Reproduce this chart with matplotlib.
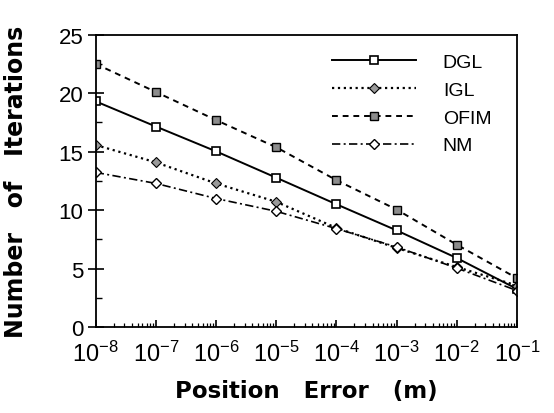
import matplotlib
matplotlib.use('Agg')
import matplotlib.pyplot as plt
from matplotlib.ticker import MultipleLocator, LogLocator, NullFormatter, FixedLocator

plt.rcParams['font.family'] = ['Liberation Sans', 'DejaVu Sans']
plt.rcParams['mathtext.fontset'] = 'custom'
plt.rcParams['mathtext.rm'] = 'Liberation Sans'
plt.rcParams['mathtext.it'] = 'Liberation Sans'

# position error (m)
err = [1e-8, 1e-7, 1e-6, 1e-5, 1e-4, 1e-3, 1e-2, 1e-1]
tick_labels = [r'$10^{-8}$', r'$10^{-7}$', r'$10^{-6}$', r'$10^{-5}$',
               r'$10^{-4}$', r'$10^{-3}$', r'$10^{-2}$', r'$10^{-1}$']

# number of iterations
dgl = [19.3, 17.15, 15.03, 12.78, 10.51, 8.28, 5.92, 3.28]
igl = [15.57, 14.09, 12.29, 10.72, 8.49, 6.78, 5.15, 3.57]
ofim = [22.5, 20.1, 17.7, 15.38, 12.57, 10.06, 7.06, 4.2]
nm = [13.23, 12.29, 11.0, 9.91, 8.43, 6.86, 5.06, 3.14]

fig = plt.figure(figsize=(5.54, 4.14), dpi=100)
ax = fig.add_axes([0.1727, 0.207, 0.7603, 0.707])

ax.plot(err, dgl, '-', color='black', lw=1.4, marker='s', ms=5.5,
        mfc='white', mec='black', mew=1.2, label='DGL')
ax.plot(err, igl, ':', color='black', lw=1.6, marker='D', ms=5,
        mfc='#9a9a9a', mec='black', mew=0.8, label='IGL')
ax.plot(err, ofim, '--', color='black', lw=1.4, dashes=(3, 2.5), marker='s', ms=6,
        mfc='#8c8c8c', mec='black', mew=1.0, label='OFIM')
ax.plot(err, nm, '-.', color='black', lw=1.2, dashes=(5, 2, 1.2, 2), marker='D', ms=5,
        mfc='white', mec='black', mew=1.0, label='NM')

ax.set_xscale('log')
ax.set_xlim(1e-8, 1e-1)
ax.set_ylim(0, 25)
ax.xaxis.set_major_locator(FixedLocator(err))
ax.set_xticklabels(tick_labels)
ax.xaxis.set_minor_locator(LogLocator(base=10, subs=range(2, 10), numticks=20))
ax.xaxis.set_minor_formatter(NullFormatter())
ax.yaxis.set_major_locator(MultipleLocator(5))
ax.yaxis.set_minor_locator(MultipleLocator(2.5))

ax.tick_params(axis='y', which='major', direction='inout', length=12, width=1.2,
               labelsize=16, pad=3)
ax.tick_params(axis='y', which='minor', direction='in', length=4, width=1.0)
ax.tick_params(axis='x', which='major', direction='in', length=5, width=1.2,
               labelsize=17, pad=10)
ax.tick_params(axis='x', which='minor', direction='in', length=3, width=0.9)

for s in ax.spines.values():
    s.set_linewidth(1.3)

ax.set_xlabel('Position   Error   (m)', fontsize=16.5, fontweight='bold',
              family='DejaVu Sans', labelpad=9)
ax.set_ylabel('Number   of   Iterations', fontsize=17, fontweight='bold',
              family='DejaVu Sans', labelpad=22)

ax.legend(loc='upper left', bbox_to_anchor=(0.561, 0.935), frameon=False,
          fontsize=14, handlelength=4.3, handletextpad=1.4, labelspacing=0.52,
          borderpad=0, borderaxespad=0)

fig.savefig('out.png', dpi=100)
